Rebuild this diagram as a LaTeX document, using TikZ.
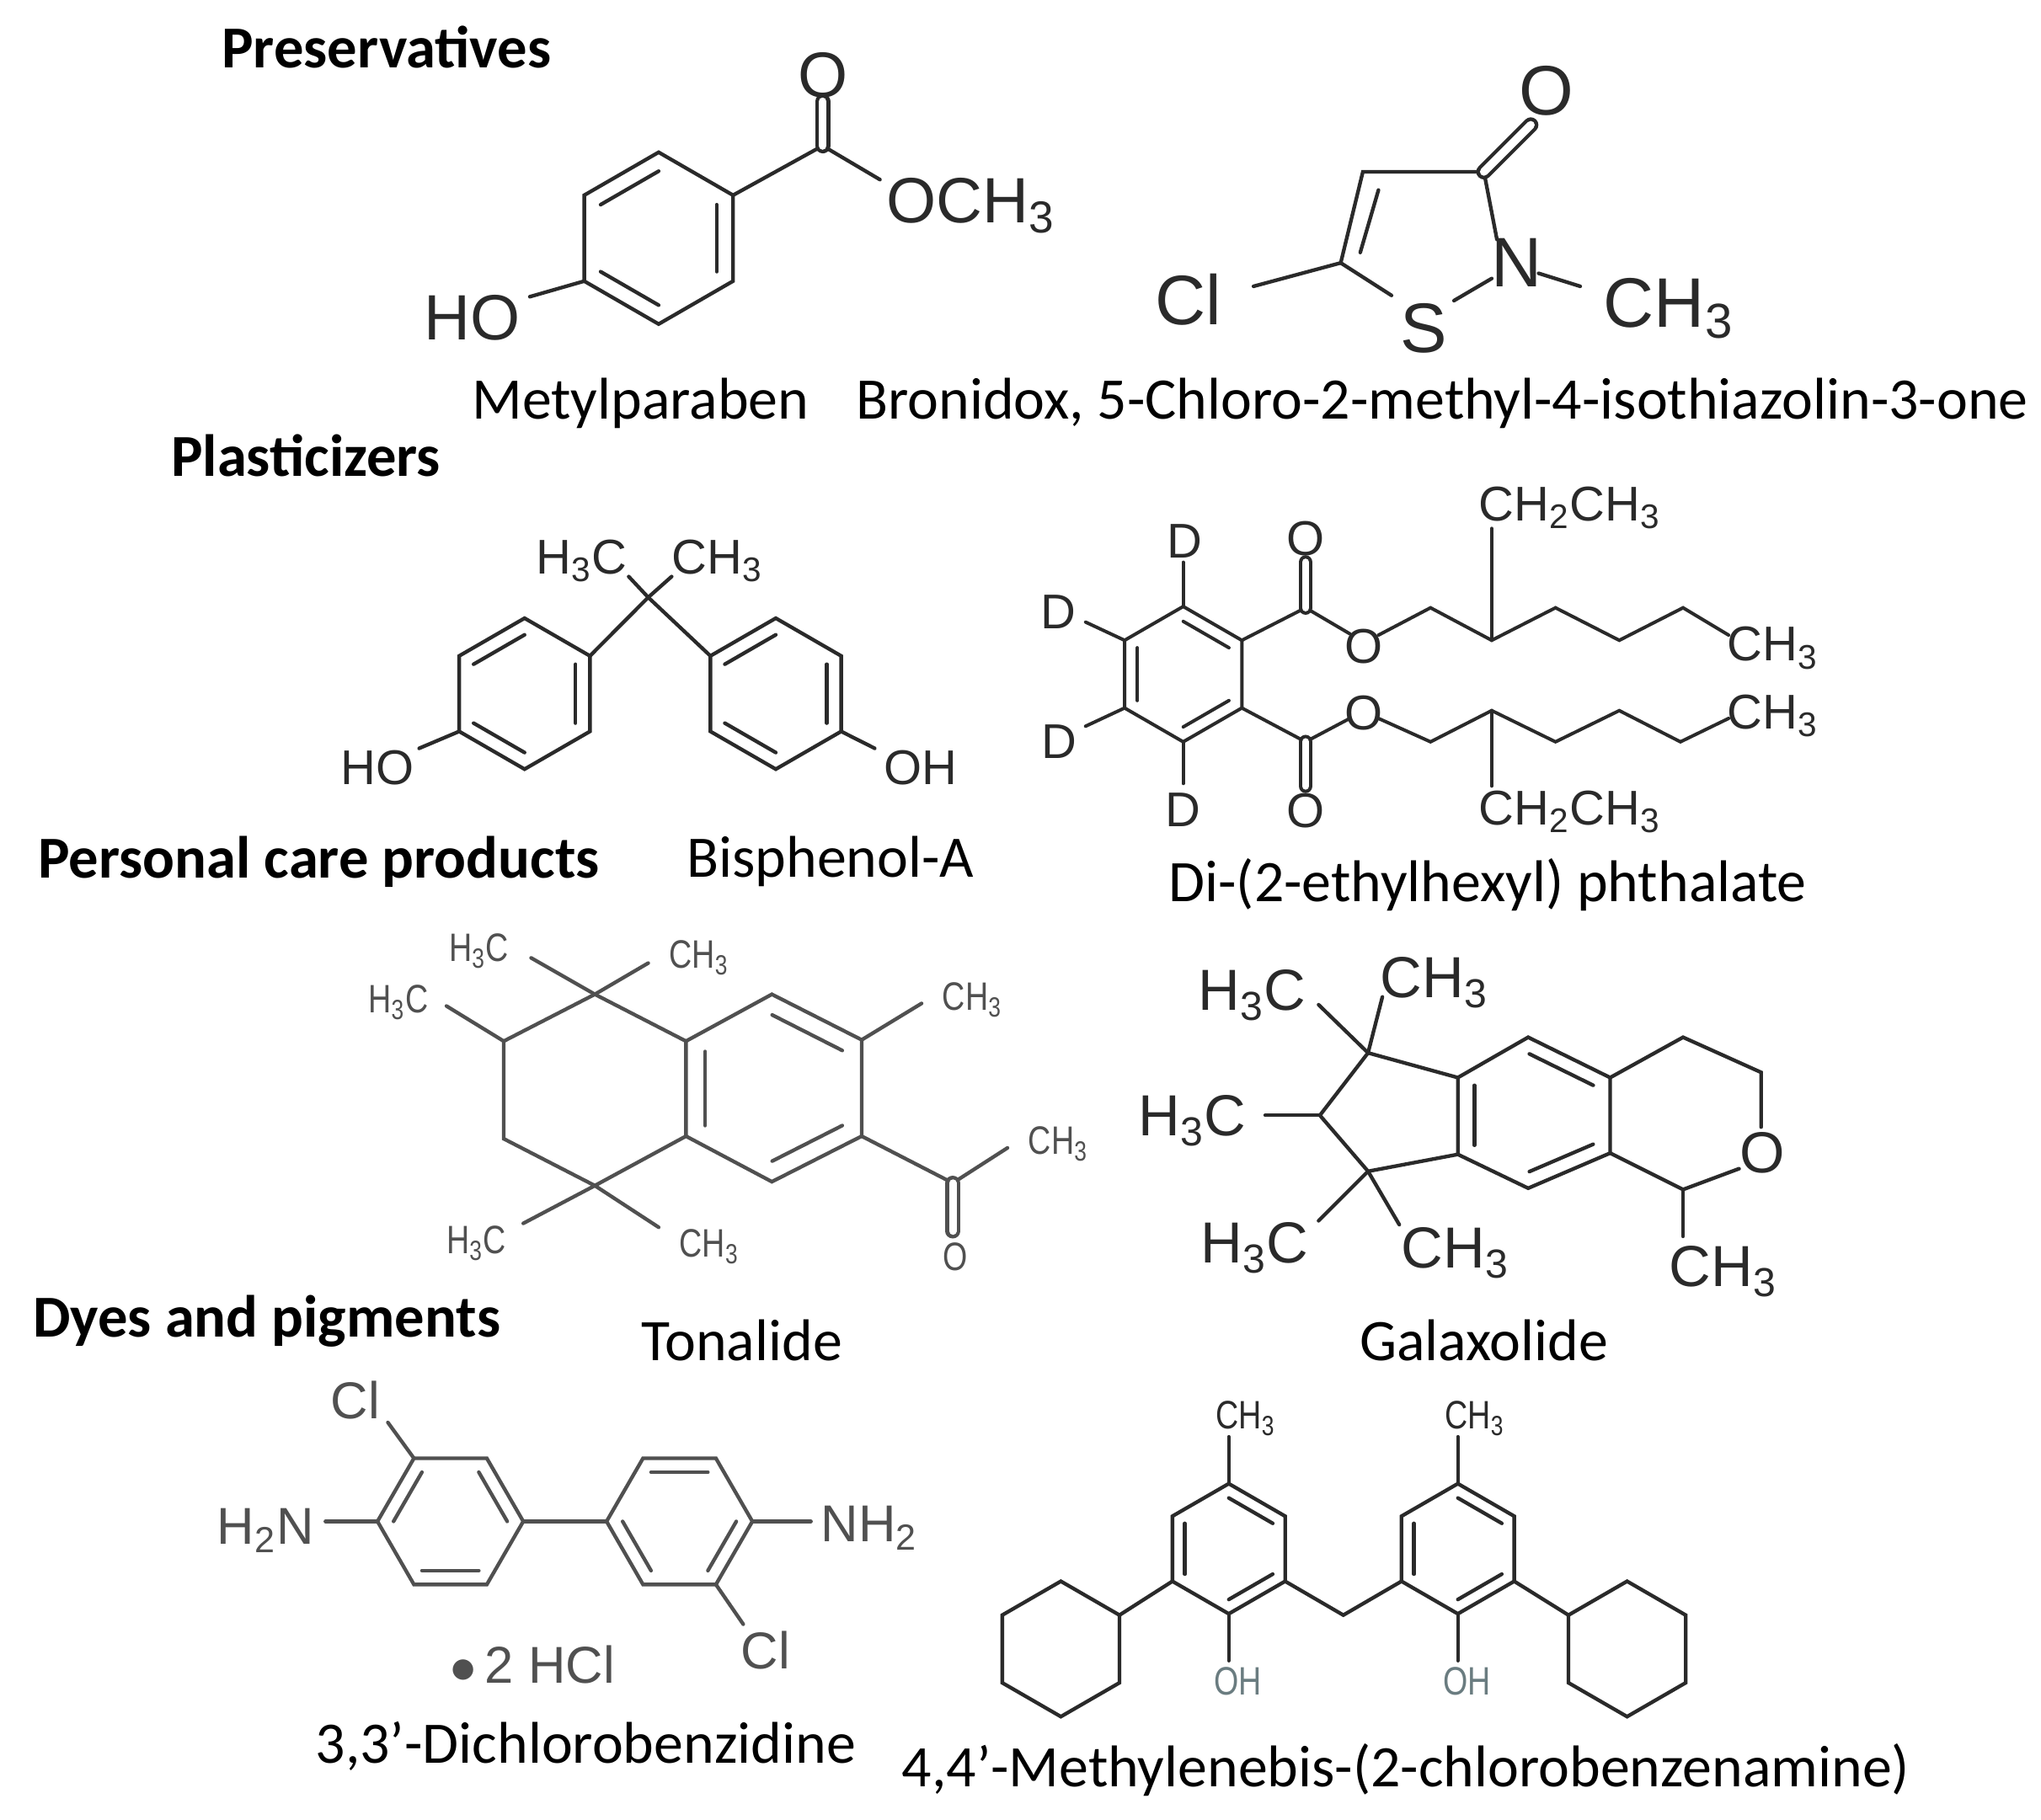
\documentclass[tikz,border=0pt]{standalone}
\usepackage{fontspec}
\setmainfont{Carlito}
\newfontfamily\chem{Liberation Sans}
\newfontfamily\chemn[FakeStretch=0.8]{Liberation Sans}
\usetikzlibrary{calc}
\definecolor{ink}{HTML}{2A2A2A}
\definecolor{inkg}{HTML}{505050}
\definecolor{ohc}{HTML}{6A7C80}
\newcommand\hexring[4]{%
  \coordinate (#1c) at (#2);
  \foreach \k in {1,...,6}{\coordinate (#1\k) at ($(#2)+({#4+60*\k}:#3)$);}
  \draw[bond] (#11)--(#12)--(#13)--(#14)--(#15)--(#16)--cycle;}
\newcommand\inb[3]{\draw[bond] ($(#2)!0.22!(#1)$) -- ($(#3)!0.22!(#1)$);}
\begin{document}
\begin{tikzpicture}[x=0.015cm,y=-0.015cm,
  bond/.style={line width=1.2pt,line cap=round,draw=ink},
  cbond/.style={bond,double distance=2.6pt},
  head/.style={font=\fontsize{19.5}{21}\selectfont\bfseries,inner sep=0},
  captxt/.style={font=\fontsize{19.3}{21}\selectfont,inner sep=0},
  lA/.style={font=\chem\fontsize{21}{23}\selectfont,inner sep=0,text=ink},
  lB/.style={font=\chem\fontsize{23}{25}\selectfont,inner sep=0,text=ink},
  lC/.style={font=\chem\fontsize{16}{18}\selectfont,inner sep=0,text=ink},
  lD/.style={font=\chem\fontsize{16}{18}\selectfont,inner sep=0,text=ink},
  lT/.style={font=\chemn\fontsize{13}{15}\selectfont,inner sep=0,text=inkg},
  lG/.style={font=\chem\fontsize{19}{21}\selectfont,inner sep=0,text=ink},
  lZ/.style={font=\chem\fontsize{17}{19}\selectfont,inner sep=0,text=inkg},
  lM/.style={font=\chemn\fontsize{13}{15}\selectfont,inner sep=0,text=ink}]
\useasboundingbox (0,0) rectangle (1568,1398);
% headings and captions
\node[head] (h1) at (297,36) {Preservatives};
\node[head] (h2) at (235,350) {Plasticizers};
\node[head] (h3) at (245,662) {Personal care products};
\node[head] (h4) at (205,1015) {Dyes and pigments};
\node[captxt] (c1) at (492,310) {Metylparaben};
\node[captxt] (c2) at (1108,310) {Bronidox, 5-Chloro-2-methyl-4-isothiazolin-3-one};
\node[captxt] (c3) at (638,662) {Bisphenol-A};
\node[captxt] (c4) at (1143,680) {Di-(2-ethylhexyl) phthalate};
\node[captxt] (c5) at (570,1030) {Tonalide};
\node[captxt] (c6) at (1140,1030) {Galaxolide};
\node[captxt] (c7) at (450,1342) {3,3’-Dichlorobenzidine};
\node[captxt] (c8) at (1080,1360) {4,4’-Methylenebis-(2-chlorobenzenamine)};

% ---------- Methylparaben
\hexring{MP}{506,183}{66}{-150}
\inb{MPc}{MP6}{MP1}\inb{MPc}{MP2}{MP3}\inb{MPc}{MP4}{MP5}
\coordinate (mpC) at (632,112);
\draw[bond] (MP2)--(mpC)--(676,138);
\draw[cbond] (mpC)--(632,78);
\draw[bond] (MP5)--(407,228);
\node[lA] (mpO) at (632,58) {O};
\node[lA] (mpOM) at (746,158) {OCH\textsubscript{3}};
\node[lA] (mpHO) at (363,244) {HO};

% ---------- Isothiazolinone
\coordinate (i4) at (1047,132); \coordinate (i3) at (1140,132); \coordinate (i5) at (1030,202);
\draw[bond] (i5)--(i4)--(i3)--(1150,184);
\draw[bond] (1059,146)--(1045,194);
\draw[cbond] (i3)--(1176,96);
\draw[bond] (i5)--(1069,227);
\draw[bond] (1146,214)--(1117,231);
\draw[bond] (i5)--(963,220);
\draw[bond] (1182,210)--(1214,220);
\node[lB] (iO) at (1188,70) {O};
\node[lB] (iCl) at (913,230) {Cl};
\node[lB] (iS) at (1094,252) {S};
\node[lB] (iN) at (1165,202) {N};
\node[lB] (iMe) at (1282,237) {CH\textsubscript{3}};

% ---------- Bisphenol A
\coordinate (bq) at (498,459);
\hexring{BL}{403,533}{58}{-150}
\hexring{BR}{596,533}{58}{-150}
\inb{BLc}{BL6}{BL1}\inb{BLc}{BL2}{BL3}\inb{BLc}{BL4}{BL5}
\inb{BRc}{BR1}{BR6}\inb{BRc}{BR2}{BR3}\inb{BRc}{BR4}{BR5}
\draw[bond] (BL2)--(bq)--(BR6);
\draw[bond] (bq)--(483,443); \draw[bond] (bq)--(516,443);
\draw[bond] (BL5)--(322,575); \draw[bond] (BR3)--(672,575);
\node[lC] (bH1) at (447,431) {H\textsubscript{3}C};
\node[lC] (bH2) at (551,431) {CH\textsubscript{3}};
\node[lC] (bHO) at (290,590) {HO};
\node[lC] (bOH) at (707,590) {OH};

% ---------- DEHP
\begin{scope}[bond/.style={line width=1.1pt,line cap=round,draw=ink}]
\hexring{D}{909,518}{52}{-150}
\inb{Dc}{D1}{D2}\inb{Dc}{D6}{D5}\inb{Dc}{D3}{D4}
\draw[bond] (D1)--(909,432); \draw[bond] (D6)--(834,478);
\draw[bond] (D5)--(834,558); \draw[bond] (D4)--(909,602);
\coordinate (du) at (1003,467); \coordinate (dl) at (1003,570);
\draw[bond] (D2)--(du)--(1037,487);
\draw[bond,double distance=2.4pt] (du)--(1003,432);
\draw[bond] (1059,488)--(1099,467)--(1146,492)--(1195,467)--(1244,492)--(1293,467)--(1328,488);
\draw[bond] (1146,492)--(1146,406);
\draw[bond] (D3)--(dl)--(1037,552);
\draw[bond,double distance=2.4pt] (dl)--(1003,604);
\draw[bond] (1059,552)--(1099,570)--(1146,546)--(1195,570)--(1244,546)--(1291,570)--(1328,552);
\draw[bond] (1146,546)--(1146,604);
\end{scope}
\node[lD] (dD1) at (910,416) {D};
\node[lD] (dD2) at (813,470) {D};
\node[lD] (dD3) at (814,570) {D};
\node[lD] (dD4) at (909,622) {D};
\node[lD] (dO1) at (1003,414) {O};
\node[lD] (dO2) at (1048,497) {O};
\node[lD] (dO3) at (1048,548) {O};
\node[lD] (dO4) at (1003,623) {O};
\node[lD] (dE1) at (1206,390) {CH\textsubscript{2}CH\textsubscript{3}};
\node[lD] (dE2) at (1206,624) {CH\textsubscript{2}CH\textsubscript{3}};
\node[lD] (dM1) at (1362,498) {CH\textsubscript{3}};
\node[lD] (dM2) at (1362,550) {CH\textsubscript{3}};

% ---------- Tonalide
\begin{scope}[bond/.style={line width=1.2pt,line cap=round,draw=inkg}]
\coordinate (tq1) at (457,764); \coordinate (tq2) at (457,911);
\coordinate (tch) at (387,800); \coordinate (tc2) at (387,875);
\coordinate (ta1) at (527,800); \coordinate (ta2) at (527,873);
\coordinate (tt) at (593,764); \coordinate (tb) at (593,908);
\coordinate (trt) at (662,799); \coordinate (trb) at (662,873);
\coordinate (tac) at (594,836);
\draw[bond] (tch)--(tq1)--(ta1)--(ta2)--(tq2)--(tc2)--cycle;
\draw[bond] (ta1)--(tt)--(trt)--(trb)--(tb)--(ta2);
\inb{tac}{ta1}{ta2}\inb{tac}{tt}{trt}\inb{tac}{trb}{tb}
\draw[bond] (tq1)--(408,736); \draw[bond] (tq1)--(498,740);
\draw[bond] (tch)--(343,773);
\draw[bond] (tq2)--(402,940); \draw[bond] (tq2)--(506,943);
\draw[bond] (trt)--(708,771);
\coordinate (tk) at (732,909);
\draw[bond] (trb)--(tk)--(774,882);
\draw[bond,double distance=2.4pt] (tk)--(732,946);
\end{scope}
\node[lT] (tL1) at (368,731) {H\textsubscript{3}C};
\node[lT] (tL2) at (537,736) {CH\textsubscript{3}};
\node[lT] (tL3) at (306,770) {H\textsubscript{3}C};
\node[lT] (tL4) at (366,955) {H\textsubscript{3}C};
\node[lT] (tL5) at (545,958) {CH\textsubscript{3}};
\node[lT] (tL6) at (747,768) {CH\textsubscript{3}};
\node[lT] (tL7) at (813,879) {CH\textsubscript{3}};
\node[lT] (tL8) at (734,966) {O};

% ---------- Galaxolide
\coordinate (g1) at (1051,809); \coordinate (g2) at (1051,900); \coordinate (gch) at (1014,857);
\coordinate (gl1) at (1120,828); \coordinate (gl2) at (1120,887);
\coordinate (gt) at (1174,797); \coordinate (gb) at (1174,913);
\coordinate (gr1) at (1237,828); \coordinate (gr2) at (1237,886);
\coordinate (gp1) at (1293,797); \coordinate (gp2) at (1353,824);
\coordinate (gpc) at (1293,914); \coordinate (gac) at (1178,855);
\draw[bond] (gch)--(g1)--(gl1)--(gl2)--(g2)--cycle;
\draw[bond] (gl1)--(gt)--(gr1)--(gr2)--(gb)--(gl2);
\inb{gac}{gl1}{gl2}\inb{gac}{gt}{gr1}\inb{gac}{gr2}{gb}
\draw[bond] (gr1)--(gp1)--(gp2)--(1353,866);
\draw[bond] (1336,898)--(gpc)--(gr2);
\draw[bond] (gpc)--(1293,950);
\draw[bond] (g1)--(1013,772); \draw[bond] (g1)--(1062,766);
\draw[bond] (gch)--(972,857);
\draw[bond] (g2)--(1013,938); \draw[bond] (g2)--(1075,941);
\node[lG] (gO) at (1354,886) {O};
\node[lG] (gL1) at (962,765) {H\textsubscript{3}C};
\node[lG] (gL2) at (1102,755) {CH\textsubscript{3}};
\node[lG] (gL3) at (916,861) {H\textsubscript{3}C};
\node[lG] (gL4) at (964,959) {H\textsubscript{3}C};
\node[lG] (gL5) at (1118,963) {CH\textsubscript{3}};
\node[lG] (gL6) at (1324,977) {CH\textsubscript{3}};

% ---------- Dichlorobenzidine
\begin{scope}[bond/.style={line width=1.2pt,line cap=round,draw=inkg}]
\hexring{Z}{346,1169}{56}{-180}
\hexring{Y}{522,1169}{56}{-180}
\inb{Zc}{Z6}{Z1}\inb{Zc}{Z2}{Z3}\inb{Zc}{Z4}{Z5}
\inb{Yc}{Y1}{Y2}\inb{Yc}{Y3}{Y4}\inb{Yc}{Y5}{Y6}
\draw[bond] (Z3)--(Y6);
\draw[bond] (Z6)--(250,1169);
\draw[bond] (Z1)--(298,1093);
\draw[bond] (Y3)--(623,1169);
\draw[bond] (Y4)--(571,1248);
\end{scope}
\node[lZ] (zN1) at (204,1176) {H\textsubscript{2}N};
\node[lZ] (zC1) at (273,1076) {Cl};
\node[lZ] (zN2) at (668,1174) {NH\textsubscript{2}};
\node[lZ] (zC2) at (588,1268) {Cl};
\node[lZ] (zH) at (409,1279) {$\bullet$\,2 HCl};

% ---------- Methylene bis
\hexring{M}{944,1190}{50}{-150}
\hexring{N}{1120,1190}{50}{-150}
\hexring{Q}{815,1267}{52}{-150}
\hexring{R}{1250,1267}{52}{-150}
\inb{Mc}{M1}{M2}\inb{Mc}{M6}{M5}\inb{Mc}{M3}{M4}
\inb{Nc}{N1}{N2}\inb{Nc}{N6}{N5}\inb{Nc}{N3}{N4}
\draw[bond] (M1)--(944,1104); \draw[bond] (N1)--(1120,1104);
\draw[bond] (M4)--(944,1276); \draw[bond] (N4)--(1120,1276);
\draw[bond] (M5)--(Q2); \draw[bond] (N3)--(R6);
\draw[bond] (M3)--(1032,1241)--(N5);
\node[lM] (mC1) at (957,1090) {CH\textsubscript{3}};
\node[lM] (mC2) at (1133,1090) {CH\textsubscript{3}};
\node[lM,text=ohc] (mO1) at (951,1292) {OH};
\node[lM,text=ohc] (mO2) at (1127,1292) {OH};
\end{tikzpicture}
\end{document}
